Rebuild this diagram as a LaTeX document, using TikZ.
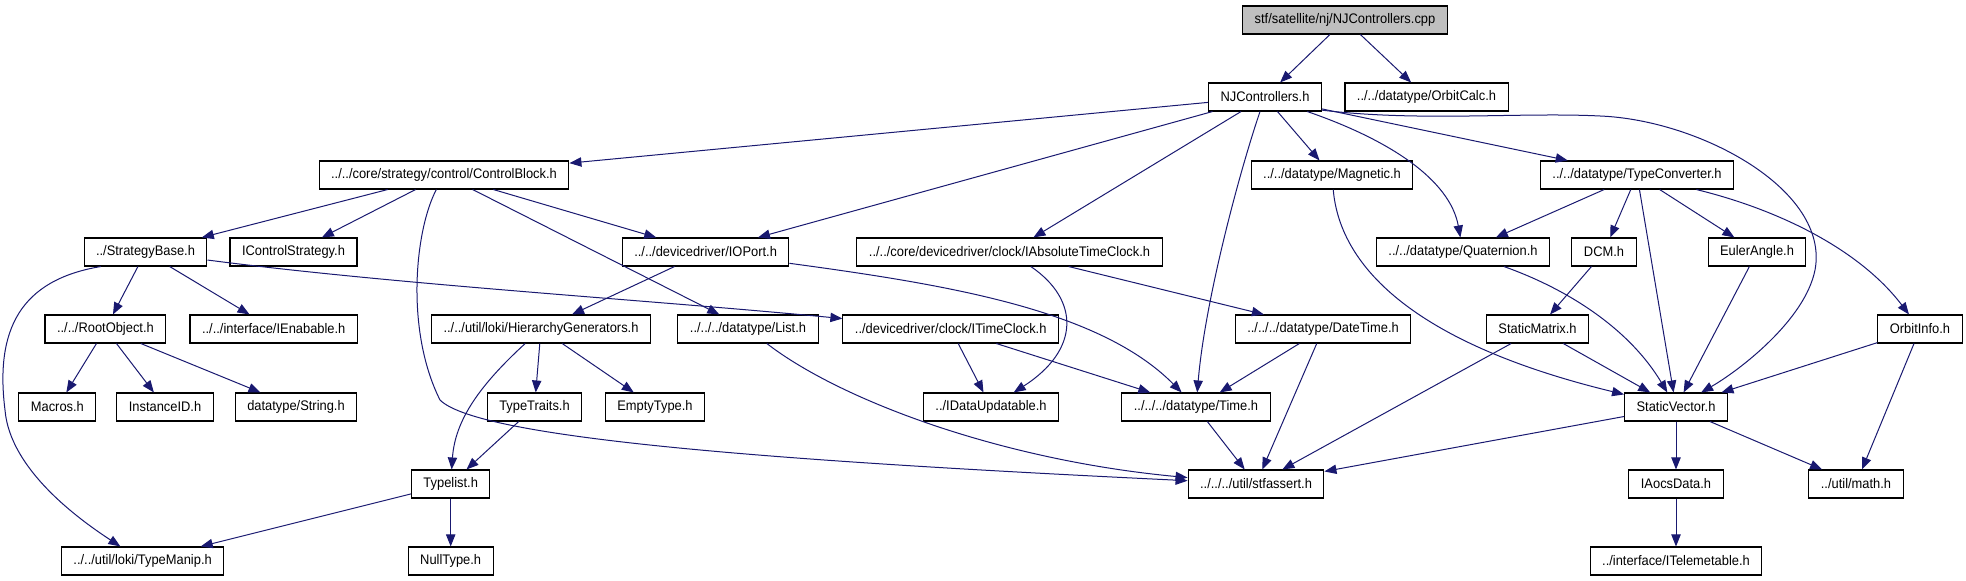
\documentclass[tikz,border=0pt]{standalone}
\usepackage{fontspec}
\setmainfont{Liberation Sans}[FakeStretch=0.93]
\usepackage{xcolor}
\usepackage{tikz}
\usetikzlibrary{
    arrows.meta
}
\definecolor{edgeblue}{HTML}{191970}
\definecolor{rootgrey}{HTML}{BFBFBF}
\tikzset{
    filebox/.style={
        rectangle,
        draw=black,
        line width=0.8pt,
        fill=white,
        align=center,
        inner xsep=9pt,
        inner ysep=0pt,
        minimum height=21pt,
        font=\fontsize{10.4}{12}\selectfont
    },
    rootbox/.style={
        filebox,
        fill=rootgrey
    },
    incl/.style={
        -{Triangle[length=9pt,width=7pt]},
        draw=edgeblue,
        line width=0.75pt
    }
}

\begin{document}
\begin{tikzpicture}[x=0.75pt,y=-0.75pt]
\useasboundingbox (0,0) rectangle (1966,581);
\node[rootbox] (root) at (1345,20) {stf/satellite/nj/NJControllers.cpp};
\node[filebox] (nj) at (1265,97) {NJControllers.h};
\node[filebox] (oc) at (1426.5,97) {../../datatype/OrbitCalc.h};
\node[filebox] (cb) at (444,175) {../../core/strategy/control/ControlBlock.h};
\node[filebox] (mag) at (1332,175) {../../datatype/Magnetic.h};
\node[filebox] (tc) at (1637,175) {../../datatype/TypeConverter.h};
\node[filebox] (sb) at (145.5,252) {../StrategyBase.h};
\node[filebox] (ics) at (293.5,252) {IControlStrategy.h};
\node[filebox] (iop) at (705.6,252) {../../devicedriver/IOPort.h};
\node[filebox] (iatc) at (1009.5,252) {../../core/devicedriver/clock/IAbsoluteTimeClock.h};
\node[filebox] (quat) at (1463,252) {../../datatype/Quaternion.h};
\node[filebox] (dcm) at (1604,252) {DCM.h};
\node[filebox] (ea) at (1757,252) {EulerAngle.h};
\node[filebox] (ro) at (105.4,329) {../../RootObject.h};
\node[filebox] (ien) at (273.7,329) {../../interface/IEnabable.h};
\node[filebox] (hg) at (541,329) {../../util/loki/HierarchyGenerators.h};
\node[filebox] (list) at (748,329) {../../../datatype/List.h};
\node[filebox] (itc) at (950.7,329) {../devicedriver/clock/ITimeClock.h};
\node[filebox] (dt) at (1323,329) {../../../datatype/DateTime.h};
\node[filebox] (sm) at (1537.5,329) {StaticMatrix.h};
\node[filebox] (oi) at (1920,329) {OrbitInfo.h};
\node[filebox] (mac) at (57.4,407) {Macros.h};
\node[filebox] (iid) at (165,407) {InstanceID.h};
\node[filebox] (str) at (296,407) {datatype/String.h};
\node[filebox] (tt) at (534.5,407) {TypeTraits.h};
\node[filebox] (et) at (655,407) {EmptyType.h};
\node[filebox] (idu) at (991,407) {../IDataUpdatable.h};
\node[filebox] (time) at (1196,407) {../../../datatype/Time.h};
\node[filebox] (sv) at (1676,407) {StaticVector.h};
\node[filebox] (tl) at (450.7,484) {Typelist.h};
\node[filebox] (stf) at (1256,484) {../../../util/stfassert.h};
\node[filebox] (aocs) at (1676,484) {IAocsData.h};
\node[filebox] (math) at (1856,484) {../util/math.h};
\node[filebox] (tm) at (142.6,561) {../../util/loki/TypeManip.h};
\node[filebox] (nt) at (450.7,561) {NullType.h};
\node[filebox] (tel) at (1676,561) {../interface/ITelemetable.h};

\draw[incl] (root) -- (nj);
\draw[incl] (root) -- (oc);
\draw[incl] (nj) -- (cb);
\draw[incl] (nj) -- (iop);
\draw[incl] (nj) -- (iatc);
\draw[incl] (nj) -- (mag);
\draw[incl] (nj) -- (tc);
\draw[incl] (nj) .. controls (1240,170) and (1205,300) .. (time);
\draw[incl] (nj) .. controls (1390,140) and (1450,180) .. (quat);
\draw[incl] (nj.-13) .. controls (1420,122) and (1520,112) .. (1600,116) .. controls (1700,120) and (1830,190) .. (1815,270) .. controls (1805,320) and (1740,370) .. (sv);
\draw[incl] (cb) -- (sb);
\draw[incl] (cb) -- (ics);
\draw[incl] (cb) -- (list);
\draw[incl] (cb) -- (iop);
\draw[incl] (cb) .. controls (415,230) and (405,330) .. (440,400) .. controls (480,440) and (800,462) .. (stf);
\draw[incl] (sb) -- (ro);
\draw[incl] (sb) -- (ien);
\draw[incl] (sb.198) .. controls (20,280) and (-5,330) .. (5,410) .. controls (10,470) and (80,520) .. (tm);
\draw[incl] (sb) .. controls (400,285) and (650,300) .. (itc);
\draw[incl] (ro) -- (mac);
\draw[incl] (ro) -- (iid);
\draw[incl] (ro) -- (str);
\draw[incl] (iop) -- (hg);
\draw[incl] (iop) .. controls (950,285) and (1100,310) .. (time);
\draw[incl] (iatc) -- (dt);
\draw[incl] (iatc) .. controls (1080,300) and (1080,350) .. (idu);
\draw[incl] (hg) -- (tt);
\draw[incl] (hg) -- (et);
\draw[incl] (hg) .. controls (480,385) and (455,420) .. (tl);
\draw[incl] (tt) -- (tl);
\draw[incl] (tl) -- (tm);
\draw[incl] (tl) -- (nt);
\draw[incl] (list) .. controls (840,400) and (1000,460) .. (stf);
\draw[incl] (itc) -- (idu);
\draw[incl] (itc) -- (time);
\draw[incl] (dt) -- (time);
\draw[incl] (dt) -- (stf);
\draw[incl] (time) -- (stf);
\draw[incl] (mag) .. controls (1340,270) and (1420,345) .. (sv);
\draw[incl] (tc) -- (quat);
\draw[incl] (tc) -- (dcm);
\draw[incl] (tc) -- (sv);
\draw[incl] (tc) -- (ea);
\draw[incl] (tc) .. controls (1780,210) and (1860,250) .. (oi);
\draw[incl] (quat) .. controls (1570,290) and (1630,330) .. (sv);
\draw[incl] (dcm) -- (sm);
\draw[incl] (ea) -- (sv);
\draw[incl] (sm) -- (sv);
\draw[incl] (sm) -- (stf);
\draw[incl] (oi) -- (sv);
\draw[incl] (oi) -- (math);
\draw[incl] (sv) -- (stf);
\draw[incl] (sv) -- (aocs);
\draw[incl] (sv) -- (math);
\draw[incl] (aocs) -- (tel);
\end{tikzpicture}
\end{document}
